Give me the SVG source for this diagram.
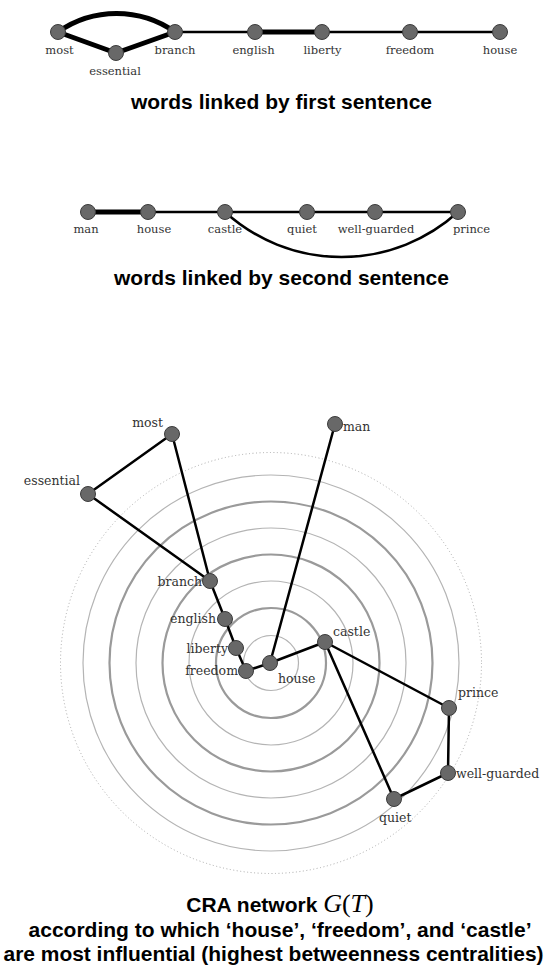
<svg xmlns="http://www.w3.org/2000/svg" width="546" height="967" viewBox="0 0 546 967">
<style>
.node{fill:#686868;stroke:#3c3c3c;stroke-width:1}
.e{stroke:#000;stroke-width:2.5;fill:none;stroke-linecap:round}
.th{stroke:#000;stroke-width:5;fill:none;stroke-linecap:round}
.lbl{font-family:"DejaVu Serif",serif;font-size:11.5px;fill:#333}
.nl{font-family:"DejaVu Serif",serif;font-size:12.5px;fill:#333}
.title{font-family:"Liberation Sans",Arial,sans-serif;font-weight:bold;font-size:21px;fill:#000;text-anchor:middle}
.ringA{fill:none;stroke:#b4b4b4;stroke-width:1.2}
.ringB{fill:none;stroke:#9a9a9a;stroke-width:2.2}
.ringD{fill:none;stroke:#aaa;stroke-width:1;stroke-dasharray:1 2.5}
</style>
<rect width="546" height="967" fill="#fff"/>

<!-- Section 1 -->
<g id="s1-connectors">
<path class="th" d="M58,32 A101.7,101.7 0 0 1 175,32"/>
<line class="th" x1="58" y1="32" x2="116" y2="53"/>
<line class="th" x1="116" y1="53" x2="175" y2="32"/>
<line class="e" x1="175" y1="32" x2="255" y2="32"/>
<line class="th" x1="255" y1="32" x2="322" y2="32"/>
<line class="e" x1="322" y1="32" x2="410" y2="32"/>
<line class="e" x1="410" y1="32" x2="500" y2="32"/>
</g>
<g id="s1-most"><circle class="node" cx="58" cy="32" r="7.5"/><text class="lbl" x="59.5" y="54" text-anchor="middle">most</text></g>
<g id="s1-essential"><circle class="node" cx="116" cy="53" r="7.5"/><text class="lbl" x="115" y="75" text-anchor="middle">essential</text></g>
<g id="s1-branch"><circle class="node" cx="175" cy="32" r="7.5"/><text class="lbl" x="175" y="54" text-anchor="middle">branch</text></g>
<g id="s1-english"><circle class="node" cx="255" cy="32" r="7.5"/><text class="lbl" x="253.5" y="54" text-anchor="middle">english</text></g>
<g id="s1-liberty"><circle class="node" cx="322" cy="32" r="7.5"/><text class="lbl" x="322.5" y="54" text-anchor="middle">liberty</text></g>
<g id="s1-freedom"><circle class="node" cx="410" cy="32" r="7.5"/><text class="lbl" x="410" y="54" text-anchor="middle">freedom</text></g>
<g id="s1-house"><circle class="node" cx="500" cy="32" r="7.5"/><text class="lbl" x="500" y="54" text-anchor="middle">house</text></g>
<text class="title" x="281.5" y="109">words linked by first sentence</text>

<!-- Section 2 -->
<g id="s2-connectors">
<line class="th" x1="88" y1="212" x2="148" y2="212"/>
<line class="e" x1="148" y1="212" x2="225" y2="212"/>
<line class="e" x1="225" y1="212" x2="307" y2="212"/>
<line class="e" x1="307" y1="212" x2="375" y2="212"/>
<line class="e" x1="375" y1="212" x2="458" y2="212"/>
<path class="e" d="M225,212 A173.3,173.3 0 0 0 458,212"/>
</g>
<g id="s2-man"><circle class="node" cx="88" cy="212" r="7.5"/><text class="lbl" x="86" y="233" text-anchor="middle">man</text></g>
<g id="s2-house"><circle class="node" cx="148" cy="212" r="7.5"/><text class="lbl" x="154" y="233" text-anchor="middle">house</text></g>
<g id="s2-castle"><circle class="node" cx="225" cy="212" r="7.5"/><text class="lbl" x="225" y="233" text-anchor="middle">castle</text></g>
<g id="s2-quiet"><circle class="node" cx="307" cy="212" r="7.5"/><text class="lbl" x="302" y="233" text-anchor="middle">quiet</text></g>
<g id="s2-well-guarded"><circle class="node" cx="375" cy="212" r="7.5"/><text class="lbl" x="376" y="233" text-anchor="middle">well-guarded</text></g>
<g id="s2-prince"><circle class="node" cx="458" cy="212" r="7.5"/><text class="lbl" x="471.5" y="233" text-anchor="middle">prince</text></g>
<text class="title" x="281.5" y="285">words linked by second sentence</text>

<!-- Section 3: rings -->
<g id="rings">
<circle class="ringD" cx="271" cy="663" r="210.5"/>
<circle class="ringA" cx="271" cy="663" r="188"/>
<circle class="ringB" cx="271" cy="663" r="161.5"/>
<circle class="ringA" cx="271" cy="663" r="135"/>
<circle class="ringB" cx="271" cy="663" r="108.5"/>
<circle class="ringA" cx="271" cy="663" r="82"/>
<circle class="ringB" cx="271" cy="663" r="55"/>
<circle class="ringA" cx="271" cy="663" r="27.5"/>
</g>
<g id="net-connectors">
<line class="e" x1="172" y1="434" x2="88" y2="494"/>
<line class="e" x1="172" y1="434" x2="210" y2="581"/>
<line class="e" x1="88" y1="494" x2="210" y2="581"/>
<line class="e" x1="210" y1="581" x2="225" y2="619"/>
<line class="e" x1="225" y1="619" x2="236" y2="648"/>
<line class="e" x1="236" y1="648" x2="246" y2="671"/>
<line class="e" x1="246" y1="671" x2="270" y2="663"/>
<line class="e" x1="270" y1="663" x2="335" y2="424"/>
<line class="e" x1="270" y1="663" x2="325" y2="642"/>
<line class="e" x1="325" y1="642" x2="449" y2="708"/>
<line class="e" x1="325" y1="642" x2="394" y2="799"/>
<line class="e" x1="449" y1="708" x2="448" y2="773"/>
<line class="e" x1="448" y1="773" x2="394" y2="799"/>
</g>
<g id="n-most"><circle class="node" cx="172" cy="434" r="7.5"/><text class="nl" x="163" y="427" text-anchor="end">most</text></g>
<g id="n-essential"><circle class="node" cx="88" cy="494" r="7.5"/><text class="nl" x="80" y="485" text-anchor="end">essential</text></g>
<g id="n-branch"><circle class="node" cx="210" cy="581" r="7.5"/><text class="nl" x="202" y="586" text-anchor="end">branch</text></g>
<g id="n-english"><circle class="node" cx="225" cy="619" r="7.5"/><text class="nl" x="216" y="623" text-anchor="end">english</text></g>
<g id="n-liberty"><circle class="node" cx="236" cy="648" r="7.5"/><text class="nl" x="228" y="653" text-anchor="end">liberty</text></g>
<g id="n-freedom"><circle class="node" cx="246" cy="671" r="7.5"/><text class="nl" x="238" y="675" text-anchor="end">freedom</text></g>
<g id="n-house"><circle class="node" cx="270" cy="663" r="7.5"/><text class="nl" x="278" y="683">house</text></g>
<g id="n-castle"><circle class="node" cx="325" cy="642" r="7.5"/><text class="nl" x="333" y="636">castle</text></g>
<g id="n-man"><circle class="node" cx="335" cy="424" r="7.5"/><text class="nl" x="343" y="431">man</text></g>
<g id="n-prince"><circle class="node" cx="449" cy="708" r="7.5"/><text class="nl" x="458" y="697">prince</text></g>
<g id="n-well-guarded"><circle class="node" cx="448" cy="773" r="7.5"/><text class="nl" x="456" y="778">well-guarded</text></g>
<g id="n-quiet"><circle class="node" cx="394" cy="799" r="7.5"/><text class="nl" x="379" y="822">quiet</text></g>

<text class="title" x="280" y="912">CRA network <tspan font-family="'Liberation Serif',serif" font-weight="normal" font-size="26"><tspan font-style="italic">G</tspan>(<tspan font-style="italic">T</tspan>)</tspan></text>
<text class="title" x="280" y="937">according to which ‘house’, ‘freedom’, and ‘castle’</text>
<text class="title" x="273.5" y="961" textLength="540" lengthAdjust="spacingAndGlyphs">are most influential (highest betweenness centralities)</text>
</svg>
